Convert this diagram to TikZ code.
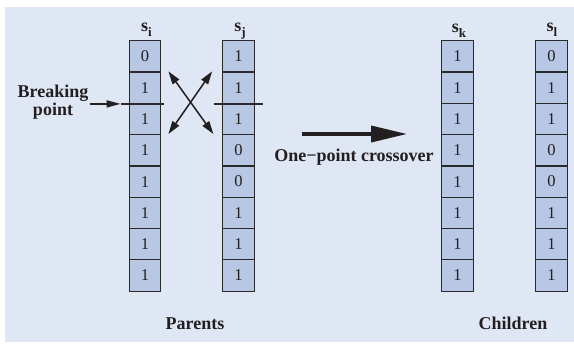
\documentclass[tikz,border=0pt]{standalone}
\usepackage{fontspec}
\setmainfont{Liberation Serif}
\usetikzlibrary{arrows.meta, positioning, calc}
\definecolor{gabg}{HTML}{DFE6F4}
\definecolor{gacell}{HTML}{B8C8E4}
\definecolor{gaedge}{HTML}{2A2A2A}
\definecolor{gatext}{HTML}{231F20}
\newcommand{\lowsub}[1]{\raisebox{-5bp}{\fontsize{13bp}{13bp}\selectfont #1}}

\begin{document}
\begin{tikzpicture}[x=1bp, y=-1bp,
    cell/.style={rectangle, draw=gaedge, fill=gacell, line width=1.2bp, minimum width=31.6bp, minimum height=31.3bp, inner sep=0pt, text=gatext, font=\fontsize{16.5bp}{16.5bp}\selectfont},
    lbl/.style={text=gatext, font=\bfseries\fontsize{18bp}{14.5bp}\selectfont, inner sep=1bp},
    cut/.style={line width=1.3bp, color=gaedge},
    thin arrow/.style={-{Triangle[length=14bp, width=7bp]}, line width=1.5bp, color=gatext},
    swap arrow/.style={{Triangle[length=13bp, width=8bp]}-{Triangle[length=13bp, width=8bp]}, line width=1.5bp, color=gatext},
    big arrow/.style={-{Triangle[length=36bp, width=16bp]}, line width=3.5bp, color=gatext}
]
\useasboundingbox (0,0) rectangle (574,343);
\fill[gabg] (5,7) rectangle (574,342);

% Parents
\foreach \v [count=\n] in {0,1,1,1,1,1,1,1}
  \node[cell] (si\n) at (145, 25.05+31.3*\n) {\v};
\foreach \v [count=\n] in {1,1,1,0,0,1,1,1}
  \node[cell] (sj\n) at (238.5, 25.05+31.3*\n) {\v};

% Children
\foreach \v [count=\n] in {1,1,1,1,1,1,1,1}
  \node[cell] (sk\n) at (457.5, 25.05+31.3*\n) {\v};
\foreach \v [count=\n] in {0,1,1,0,0,1,1,1}
  \node[cell] (sl\n) at (551.5, 25.05+31.3*\n) {\v};

% String names
\node[lbl, anchor=base] (labi) at (146.5,31) {s\lowsub{i}};
\node[lbl, anchor=base] (labj) at (240,31) {s\lowsub{j}};
\node[lbl, anchor=base] (labk) at (459,32) {s\lowsub{k}};
\node[lbl, anchor=base] (labl) at (552,31) {s\lowsub{l}};

% Breaking point
\draw[cut] ($(si2.south west)+(-8,0)$) coordinate (cutL) -- ($(si2.south east)+(3,0)$);
\draw[cut] ($(sj2.south west)+(-7.7,0)$) -- ($(sj2.south east)+(7.7,0)$);
\node[lbl, align=center] (brk) at (53,102) {Breaking\\point};
\draw[thin arrow] (brk.east |- cutL) -- (cutL);

% Swapped tails
\draw[swap arrow] ($(si2.north east)+(7,0)$) -- ($(sj4.north west)+(-8.7,0)$);
\draw[swap arrow] ($(sj2.north west)+(-10,0)$) -- ($(si4.north east)+(7,0)$);

% Crossover
\draw[big arrow] ($(sj4.north east)+(47,0)$) -- ($(sk4.north west)+(-34,0)$);
\node[lbl, anchor=base] (xover) at (354,161.7) {One−point crossover};

% Captions
\node[lbl, anchor=base] (par) at (195,329) {Parents};
\node[lbl, anchor=base] (chd) at (513,329) {Children};

\end{tikzpicture}
\end{document}
